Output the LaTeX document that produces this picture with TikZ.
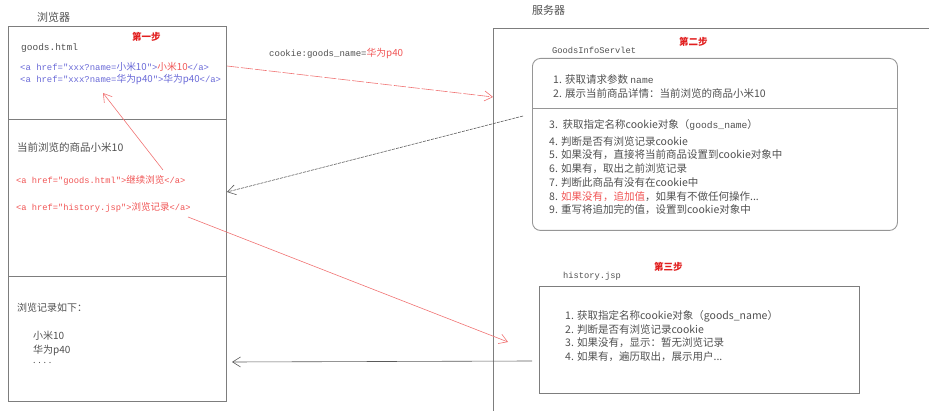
\documentclass[tikz,border=0pt]{standalone}
\usepackage{fontspec}
\setmainfont{Noto Sans CJK SC}
\setmonofont{Liberation Mono}[Scale=0.92]
\usetikzlibrary{arrows.meta}
\definecolor{boxgray}{RGB}{125,125,125}
\definecolor{lightgray}{RGB}{150,150,150}
\definecolor{txtgray}{RGB}{80,80,80}
\definecolor{linkblue}{RGB}{105,105,215}
\definecolor{linkred}{RGB}{240,85,85}
\definecolor{stepred}{RGB}{225,30,30}
\definecolor{arrowred}{RGB}{240,115,115}
\definecolor{arrowgray}{RGB}{90,90,90}
\newcommand\zh[1]{{\rmfamily #1}}
\newcommand\fs[1]{\fontsize{#1}{#1}\selectfont}
\begin{document}
\begin{tikzpicture}[x=1pt,y=-1pt,
  txt/.style={anchor=west, inner sep=0pt, text=txtgray},
  steplabel/.style={anchor=west, inner sep=0pt, text=stepred, font=\fs{9.5}\bfseries},
  frame/.style={draw=boxgray, line width=0.9pt},
  panel/.style={draw=boxgray, line width=0.9pt, anchor=north west, inner sep=0pt},
  redarrow/.style={draw=arrowred, line width=0.6pt, -{Straight Barb[length=8pt,width=10pt]}},
  grayarrow/.style={draw=arrowgray, line width=0.6pt, -{Straight Barb[length=8pt,width=10pt]}},
]
\useasboundingbox (0,0) rectangle (929,411);

% ---------- browser ----------
\node[txt, font=\fs{11}] (lblbrowser) at (37,17) {浏览器};
\node[panel, minimum width=218pt, minimum height=375pt] (browser) at (8,26) {};
\draw[frame] (8,119) -- (226,119);
\draw[frame] (8,276) -- (226,276);

\node[steplabel] (step1) at (132,37) {第一步};
\node[txt, font=\ttfamily\fs{10.3}] (goodsfile) at (21,48) {goods.html};
\node[txt, text=linkblue, font=\ttfamily\fs{9.7}] (link1) at (20,67)
  {<a href="xxx?name=\zh{小米10}">\textcolor{linkred}{\zh{小米10}}</a>};
\node[txt, text=linkblue, font=\ttfamily\fs{9.7}] (link2) at (20,80)
  {<a href="xxx?name=\zh{华为p40}">\zh{华为p40}</a>};

\node[txt, font=\fs{10.5}] (curgoods) at (17,147) {当前浏览的商品小米10};
\node[txt, text=linkred, font=\ttfamily\fs{9.5}] (link3) at (16,180)
  {<a href="goods.html">\zh{继续浏览}</a>};
\node[txt, text=linkred, font=\ttfamily\fs{9.5}] (link4) at (16,207)
  {<a href="history.jsp">\zh{浏览记录}</a>};

\node[txt, font=\fs{10}] (histtitle) at (17,308) {浏览记录如下：};
\node[txt, font=\fs{10}] (hitem1) at (33,336) {小米10};
\node[txt, font=\fs{10}] (hitem2) at (33,350) {华为p40};
\node[txt, font=\fs{9}] (hitem3) at (33,363) {. . . .};

% ---------- server ----------
\node[txt, font=\fs{11}] (lblserver) at (532,10) {服务器};
\coordinate (srvtr) at (929,28);
\coordinate (srvtl) at (493,28);
\coordinate (srvbl) at (493,411);
\draw[frame] (srvtr) -- (srvtl) -- (srvbl);

\node[steplabel] (step2) at (679,42) {第二步};
\node[txt, font=\ttfamily\fs{9.5}] (servletname) at (552,50) {GoodsInfoServlet};
\node[panel, draw=lightgray, rounded corners=8pt, minimum width=365pt, minimum height=172pt] (servlet) at (532,58) {};
\draw[draw=lightgray, line width=0.9pt] (532,108) -- (897,108);

\begin{scope}[every node/.style={txt, font=\fs{10.5}}]
\node (s1) at (553,80) {1. 获取请求参数 \texttt{name}};
\node (s2) at (553,93) {2. 展示当前商品详情：当前浏览的商品小米10};
\node (s3) at (549,125) {3.\ \ 获取指定名称cookie对象（\texttt{goods\_name}）};
\node (s4) at (549,142) {4. 判断是否有浏览记录cookie};
\node (s5) at (549,155) {5. 如果没有，直接将当前商品设置到cookie对象中};
\node (s6) at (549,169) {6. 如果有，取出之前浏览记录};
\node (s7) at (549,183) {7. 判断此商品有没有在cookie中};
\node (s8) at (549,197) {8. \textcolor{linkred}{如果没有，追加值}，如果有不做任何操作...};
\node (s9) at (549,210) {9. 重写将追加完的值，设置到cookie对象中};
\end{scope}

\node[steplabel] (step3) at (654,267) {第三步};
\node[txt, font=\ttfamily\fs{9.5}] (histname) at (563,276) {history.jsp};
\node[panel, minimum width=320pt, minimum height=107pt] (history) at (539,286) {};
\begin{scope}[every node/.style={txt, font=\fs{10.5}}]
\node (j1) at (565,316) {1. 获取指定名称cookie对象（goods\_name）};
\node (j2) at (565,330) {2. 判断是否有浏览记录cookie};
\node (j3) at (565,343) {3. 如果没有，显示：暂无浏览记录};
\node (j4) at (565,357) {4. 如果有，遍历取出，展示用户...};
\end{scope}

% ---------- cookie label ----------
\node[txt, font=\ttfamily\fs{9.8}] (cookielbl) at (269,54)
  {cookie:goods\_name=\textcolor{linkred}{\zh{华为p40}}};

% ---------- connectors ----------
\coordinate (a1s) at (227,66);
\coordinate (a1e) at (493,97);
\draw[redarrow, dash pattern=on 12pt off 2pt] (a1s) -- (a1e);

\coordinate (a2s) at (163,170);
\coordinate (a2e) at (103,93);
\draw[redarrow] (a2s) -- (a2e);

\coordinate (a3s) at (188,217);
\coordinate (a3e) at (508,342);
\draw[redarrow] (a3s) -- (a3e);

\coordinate (a4s) at (523,116);
\coordinate (a4e) at (227,192);
\draw[grayarrow, dash pattern=on 3pt off 1pt] (a4s) -- (a4e);

\coordinate (a5s) at (532,361);
\coordinate (a5e) at (232,362);
\draw[grayarrow] (a5s) -- (a5e);
\end{tikzpicture}
\end{document}
